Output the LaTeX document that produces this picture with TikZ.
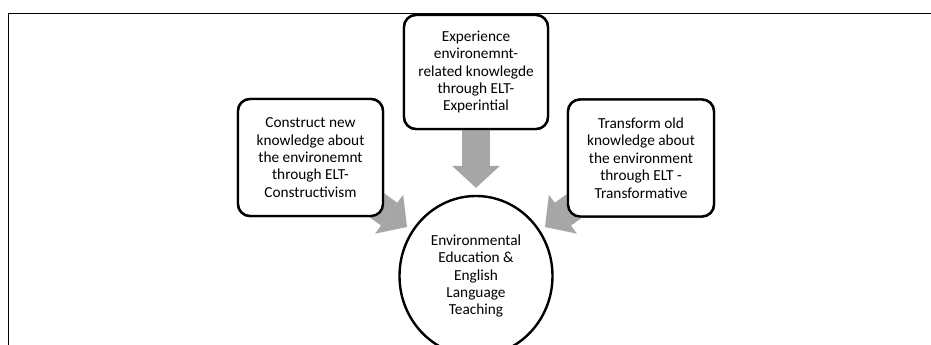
\documentclass[tikz,border=0pt]{standalone}
\usepackage{fontspec}
\setmainfont{Carlito}
\usetikzlibrary{shapes.geometric,arrows.meta}
\definecolor{arrowgray}{HTML}{A6A6A6}
\begin{document}
\begin{tikzpicture}[x=1pt,y=-1pt,
  txt/.style={font=\fontsize{15.3}{17.4}\selectfont, align=center, text=black},
  box/.style={txt, draw, line width=2.4pt, rounded corners=12pt, fill=white, inner sep=0pt},
  hub/.style={txt, draw, ellipse, line width=2.4pt, fill=white, inner sep=0pt,
    minimum width=153pt, minimum height=160pt},
  blockarrow/.style={arrowgray, line width=28pt,
    -{Triangle[width=48pt,length=22pt,line width=0pt]}}]
\useasboundingbox (0,0) rectangle (931,345);
\clip (0,0) rectangle (931,345);
% frame
\draw[line width=1.1pt] (8.5,345) -- (8.5,13.5) -- (931,13.5);
% nodes (placed first so the arrows can refer to them)
\node[box, minimum width=144pt, minimum height=114pt] (T) at (476,72)
  {Experience\\environemnt-\\related knowlegde\\through ELT-\\Experintial};
\node[box, minimum width=145pt, minimum height=117pt] (L) at (310.5,157.5)
  {Construct new\\knowledge about\\the environemnt\\through ELT-\\Constructivism};
\node[box, minimum width=146pt, minimum height=117pt] (R) at (641,158)
  {Transform old\\knowledge about\\the environment\\through ELT -\\Transformative};
\node[hub] (C) at (476,276)
  {Environmental\\Education \&\\English\\Language\\Teaching};
\coordinate (tipL) at (407,227);
\coordinate (tipR) at (545,227);
% arrows
\draw[blockarrow, shorten >=7pt] (T.center) -- (C.north);
\draw[blockarrow] (L.center) -- (tipL);
\draw[blockarrow] (R.center) -- (tipR);
% redraw boxes on top of the arrows
\node[box, minimum width=144pt, minimum height=114pt] at (T)
  {Experience\\environemnt-\\related knowlegde\\through ELT-\\Experintial};
\node[box, minimum width=145pt, minimum height=117pt] at (L)
  {Construct new\\knowledge about\\the environemnt\\through ELT-\\Constructivism};
\node[box, minimum width=146pt, minimum height=117pt] at (R)
  {Transform old\\knowledge about\\the environment\\through ELT -\\Transformative};
\end{tikzpicture}
\end{document}
